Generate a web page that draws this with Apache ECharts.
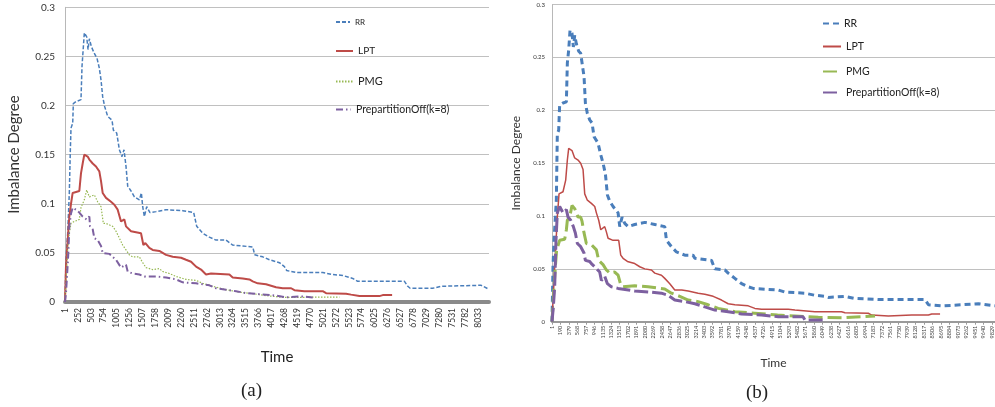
<!DOCTYPE html>
<html>
<head>
<meta charset="utf-8">
<script src="https://cdn.jsdelivr.net/npm/echarts@6/dist/echarts.min.js"></script>
<style>html,body{margin:0;padding:0;background:#fff}#c{width:995px;height:407px}</style>
</head>
<body>
<div id="c"></div>
<script>
// ---- tick labels ----
const xLabelsA = ['1','252','503','754','1005','1256','1507','1758','2009','2260','2511','2762','3013','3264','3515','3766','4017','4268','4519','4770','5021','5272','5523','5774','6025','6276','6527','6778','7029','7280','7531','7782','8033'];
const xLabelsB = ['1','190','379','568','757','946','1135','1324','1513','1702','1891','2080','2269','2458','2647','2836','3025','3214','3403','3592','3781','3970','4159','4348','4537','4726','4915','5104','5293','5482','5671','5860','6049','6238','6427','6616','6805','6994','7183','7372','7561','7750','7939','8128','8317','8506','8695','8884','9073','9262','9451','9640','9829'];
const seriesNames = ['RR','LPT','PMG','PrepartitionOff(k=8)'];

// ---- panel (a) values: [time index, imbalance degree] ----
const rrA = [[0,0],[19,0.043],[52,0.070],[84,0.111],[104,0.155],[117,0.177],[150,0.182],[162,0.202],[214,0.204],[311,0.206],[331,0.240],[376,0.274],[422,0.270],[448,0.257],[474,0.268],[513,0.260],[571,0.253],[623,0.248],[668,0.238],[701,0.226],[733,0.209],[772,0.199],[830,0.189],[915,0.185],[941,0.175],[1006,0.172],[1058,0.155],[1109,0.148],[1148,0.155],[1187,0.138],[1220,0.118],[1285,0.113],[1350,0.107],[1447,0.104],[1486,0.111],[1512,0.097],[1544,0.087],[1590,0.097],[1654,0.091],[1771,0.092],[1966,0.094],[2290,0.093],[2504,0.091],[2563,0.077],[2680,0.070],[2809,0.066],[2939,0.063],[3134,0.063],[3263,0.058],[3458,0.057],[3653,0.056],[3692,0.048],[3847,0.046],[3977,0.043],[4172,0.040],[4269,0.036],[4314,0.032],[4496,0.030],[5015,0.030],[5210,0.028],[5404,0.027],[5599,0.024],[5696,0.021],[6605,0.021],[6670,0.016],[6715,0.014],[7156,0.014],[7318,0.016],[8097,0.017],[8246,0.013]];
const lptA = [[0,0],[19,0.036],[52,0.063],[84,0.087],[117,0.100],[149,0.111],[279,0.113],[311,0.131],[344,0.141],[376,0.150],[441,0.148],[474,0.145],[539,0.141],[603,0.138],[668,0.133],[701,0.123],[733,0.111],[798,0.106],[895,0.102],[960,0.099],[1025,0.094],[1090,0.082],[1155,0.084],[1187,0.077],[1285,0.072],[1479,0.070],[1525,0.058],[1564,0.060],[1641,0.055],[1706,0.053],[1836,0.052],[1966,0.048],[2096,0.046],[2258,0.045],[2355,0.043],[2453,0.041],[2485,0.040],[2550,0.036],[2647,0.033],[2744,0.028],[2842,0.029],[3199,0.028],[3263,0.025],[3458,0.024],[3588,0.023],[3653,0.021],[3750,0.019],[3912,0.018],[3945,0.017],[4107,0.015],[4237,0.014],[4400,0.014],[4464,0.012],[4658,0.011],[5015,0.011],[5080,0.009],[5469,0.0085],[5567,0.0075],[5729,0.006],[6118,0.006],[6183,0.007],[6365,0.007]];
const pmgA = [[0,0],[19,0.019],[52,0.053],[84,0.070],[117,0.080],[182,0.082],[279,0.084],[311,0.096],[376,0.104],[422,0.114],[474,0.107],[571,0.109],[636,0.102],[701,0.097],[746,0.080],[798,0.080],[928,0.077],[993,0.072],[1058,0.065],[1122,0.058],[1187,0.053],[1252,0.048],[1317,0.046],[1447,0.046],[1512,0.040],[1577,0.035],[1706,0.033],[1836,0.034],[1901,0.031],[2031,0.029],[2161,0.026],[2355,0.023],[2550,0.022],[2680,0.019],[2874,0.016],[3134,0.0125],[3393,0.010],[3653,0.0085],[3912,0.0065],[4237,0.0047],[4561,0.0047],[4886,0.005],[5340,0.005]];
const prepA = [[0,0],[19,0.009],[39,0.026],[65,0.050],[84,0.077],[117,0.090],[149,0.096],[214,0.094],[279,0.091],[344,0.087],[422,0.084],[474,0.087],[487,0.077],[539,0.074],[571,0.065],[636,0.063],[701,0.057],[733,0.050],[863,0.049],[928,0.046],[993,0.043],[1090,0.035],[1187,0.038],[1220,0.031],[1317,0.029],[1447,0.028],[1544,0.026],[1771,0.026],[1966,0.025],[2161,0.023],[2290,0.020],[2550,0.019],[2809,0.017],[2939,0.014],[3134,0.0125],[3328,0.011],[3523,0.009],[3782,0.008],[4107,0.0065],[4301,0.0047],[4561,0.0058],[4820,0.0047]];

// ---- panel (b) values ----
const rrB = [[0,0],[22,0.052],[45,0.077],[75,0.099],[97,0.115],[119,0.178],[149,0.181],[171,0.205],[246,0.207],[321,0.208],[343,0.245],[373,0.257],[403,0.276],[447,0.273],[477,0.260],[507,0.271],[544,0.263],[597,0.256],[641,0.254],[671,0.245],[716,0.232],[746,0.207],[790,0.197],[843,0.191],[895,0.188],[940,0.175],[1029,0.169],[1089,0.158],[1141,0.150],[1193,0.140],[1238,0.120],[1290,0.114],[1365,0.109],[1477,0.103],[1514,0.090],[1566,0.099],[1626,0.093],[1700,0.090],[1849,0.092],[2073,0.094],[2297,0.092],[2520,0.090],[2558,0.077],[2670,0.071],[2781,0.066],[2968,0.063],[3150,0.063],[3192,0.060],[3565,0.058],[3639,0.050],[3863,0.049],[3937,0.046],[4087,0.041],[4236,0.036],[4385,0.033],[4497,0.0315],[5056,0.030],[5205,0.028],[5653,0.027],[5876,0.025],[6100,0.024],[6174,0.023],[6547,0.024],[6771,0.022],[7293,0.021],[8337,0.021],[8412,0.016],[8710,0.015],[9157,0.016],[9530,0.017],[9900,0.015]];
const lptB = [[0,0],[60,0.052],[119,0.099],[157,0.121],[246,0.123],[306,0.134],[343,0.153],[373,0.164],[447,0.162],[507,0.155],[582,0.153],[641,0.150],[694,0.144],[731,0.121],[790,0.115],[880,0.112],[955,0.109],[992,0.103],[1044,0.096],[1089,0.087],[1178,0.090],[1215,0.085],[1253,0.079],[1365,0.077],[1491,0.077],[1536,0.063],[1588,0.060],[1685,0.057],[1849,0.055],[1961,0.052],[2073,0.050],[2222,0.049],[2297,0.046],[2446,0.044],[2520,0.041],[2632,0.036],[2744,0.030],[2900,0.030],[3043,0.029],[3266,0.027],[3415,0.026],[3602,0.024],[3788,0.0205],[3937,0.017],[4087,0.016],[4385,0.015],[4534,0.0126],[4683,0.0117],[5280,0.0117],[5429,0.011],[5876,0.0095],[6470,0.0095],[6547,0.0085],[7069,0.008],[7144,0.0063],[7517,0.0054],[8039,0.0063],[8412,0.0063],[8486,0.0073],[8672,0.0073]];
const pmgB = [[0,0],[37,0.027],[75,0.052],[104,0.068],[134,0.069],[171,0.077],[283,0.078],[321,0.087],[343,0.096],[395,0.099],[447,0.110],[507,0.107],[582,0.099],[641,0.099],[671,0.095],[716,0.084],[768,0.074],[880,0.073],[992,0.068],[1044,0.058],[1141,0.054],[1215,0.049],[1290,0.046],[1402,0.047],[1477,0.044],[1536,0.035],[1588,0.033],[1849,0.034],[2148,0.033],[2520,0.031],[2670,0.027],[2856,0.024],[3043,0.0205],[3266,0.019],[3490,0.016],[3714,0.0126],[4087,0.0095],[4534,0.008],[5041,0.0063],[5429,0.0054],[5951,0.0041],[6547,0.0038],[7219,0.0054]];
const prepB = [[0,0],[30,0.014],[60,0.033],[89,0.077],[119,0.103],[171,0.109],[246,0.103],[321,0.106],[358,0.099],[418,0.096],[477,0.090],[522,0.084],[567,0.074],[641,0.071],[716,0.065],[746,0.058],[843,0.057],[880,0.055],[955,0.052],[1066,0.047],[1104,0.039],[1178,0.043],[1238,0.036],[1327,0.033],[1477,0.0315],[1514,0.030],[1849,0.029],[2222,0.028],[2446,0.027],[2595,0.025],[2744,0.0205],[2968,0.019],[3192,0.017],[3415,0.014],[3639,0.011],[3937,0.0095],[4236,0.0073],[4683,0.0063],[5056,0.0047],[5610,0.0047],[5653,0.0016],[6100,0.0016]];

const STEP_A = 251, STEP_B = 189;
const C = {blue:'#4a7ebb', red:'#be4b48', green:'#98b954', purple:'#7d60a0'};
const FONT = 'Lato';
const SUF = ' (b)';

function tickFmt(labels, step){
  return function(v){ if (v % step !== 0) return ''; const i = v/step; return labels[i] !== undefined ? labels[i] : ''; };
}
function ser(name, data, xi, color, width, type){
  return {name:name, type:'line', data:data, xAxisIndex:xi, yAxisIndex:xi, symbol:'none', showSymbol:false,
    lineStyle:{color:color, width:width, type:type}, itemStyle:{color:color}, animation:false, z:3};
}
function leg(name, left, top, w, fs){
  return {data:[name], left:left, top:top, orient:'vertical', padding:0, itemWidth:w, itemHeight:8,
    formatter:function(n){return n.replace(SUF,'');},
    itemStyle:{opacity:0, borderWidth:0},
    textStyle:{fontFamily:FONT, fontSize:fs, color:'#222'}, selectedMode:false};
}

const chart = echarts.init(document.getElementById('c'), null, {renderer:'canvas'});
const yBase = {type:'value', min:0, max:0.3, interval:0.05,
  axisLine:{show:true, lineStyle:{color:'#b8b8b8', width:1}}, axisTick:{show:false},
  splitLine:{show:true, lineStyle:{color:'#c0c0c0', width:1}}, nameLocation:'middle'};

chart.setOption({
  animation:false,
  title:[
    {text:'(a)', left:236, top:377, textStyle:{fontFamily:'Liberation Serif', fontSize:19, fontWeight:'normal', color:'#222'}},
    {text:'(b)', left:741, top:379, textStyle:{fontFamily:'Liberation Serif', fontSize:19, fontWeight:'normal', color:'#222'}}
  ],
  grid:[
    {left:65, top:7.3, width:424, height:294.7, containLabel:false},
    {left:552, top:4.7, width:443, height:317, containLabel:false}
  ],
  xAxis:[
    {type:'value', gridIndex:0, min:0, max:8250, interval:STEP_A, name:'Time', nameLocation:'middle', nameGap:48,
      nameTextStyle:{fontFamily:FONT, fontSize:15, color:'#222'},
      axisLine:{show:true, onZero:false, lineStyle:{color:'#8a8a8a', width:4}}, axisTick:{show:false}, splitLine:{show:false},
      axisLabel:{rotate:90, fontSize:8.5, fontFamily:FONT, color:'#333', margin:6, showMaxLabel:false, showMinLabel:true, formatter:tickFmt(xLabelsA, STEP_A)}},
    {type:'value', gridIndex:1, min:0, max:9900, interval:STEP_B, name:'Time', nameLocation:'middle', nameGap:35,
      nameTextStyle:{fontFamily:FONT, fontSize:12, color:'#333'},
      axisLine:{show:true, onZero:false, lineStyle:{color:'#9a9a9a', width:2}}, axisTick:{show:true, length:3, lineStyle:{color:'#9a9a9a'}}, splitLine:{show:false},
      axisLabel:{rotate:90, fontSize:5.5, fontFamily:FONT, color:'#444', margin:4, showMaxLabel:false, showMinLabel:true, formatter:tickFmt(xLabelsB, STEP_B)}}
  ],
  yAxis:[
    Object.assign({}, yBase, {gridIndex:0, name:'Imbalance Degree', nameGap:43,
      nameTextStyle:{fontFamily:FONT, fontSize:15, color:'#333'},
      axisLabel:{fontSize:10, fontFamily:FONT, color:'#333', margin:10}}),
    Object.assign({}, yBase, {gridIndex:1, name:'Imbalance Degree', nameGap:30,
      nameTextStyle:{fontFamily:FONT, fontSize:12, color:'#333'},
      axisLabel:{fontSize:6, fontFamily:FONT, color:'#333', margin:7}})
  ],
  legend:[
    leg(seriesNames[0], 335, 18, 14, 8),
    leg(seriesNames[1], 335, 46, 17, 10),
    leg(seriesNames[2], 335, 76, 17, 11),
    leg(seriesNames[3], 335, 104, 15, 10.5),
    leg(seriesNames[0]+SUF, 822, 18, 16, 10.5),
    leg(seriesNames[1]+SUF, 822, 41, 18, 10.5),
    leg(seriesNames[2]+SUF, 822, 66, 18, 10.5),
    leg(seriesNames[3]+SUF, 822, 87, 18, 10.5)
  ],
  series:[
    ser(seriesNames[0], rrA, 0, C.blue, 1.5, [4,2]),
    ser(seriesNames[1], lptA, 0, C.red, 2, 'solid'),
    ser(seriesNames[2], pmgA, 0, C.green, 1.2, [1.5,1.5]),
    ser(seriesNames[3], prepA, 0, C.purple, 2, [7,3,1.5,3]),
    ser(seriesNames[0]+SUF, rrB, 1, C.blue, 3, [6,4]),
    ser(seriesNames[1]+SUF, lptB, 1, C.red, 1.5, 'solid'),
    ser(seriesNames[2]+SUF, pmgB, 1, C.green, 3, [14,5]),
    ser(seriesNames[3]+SUF, prepB, 1, C.purple, 3, [14,4])
  ]
});
</script>
</body>
</html>
